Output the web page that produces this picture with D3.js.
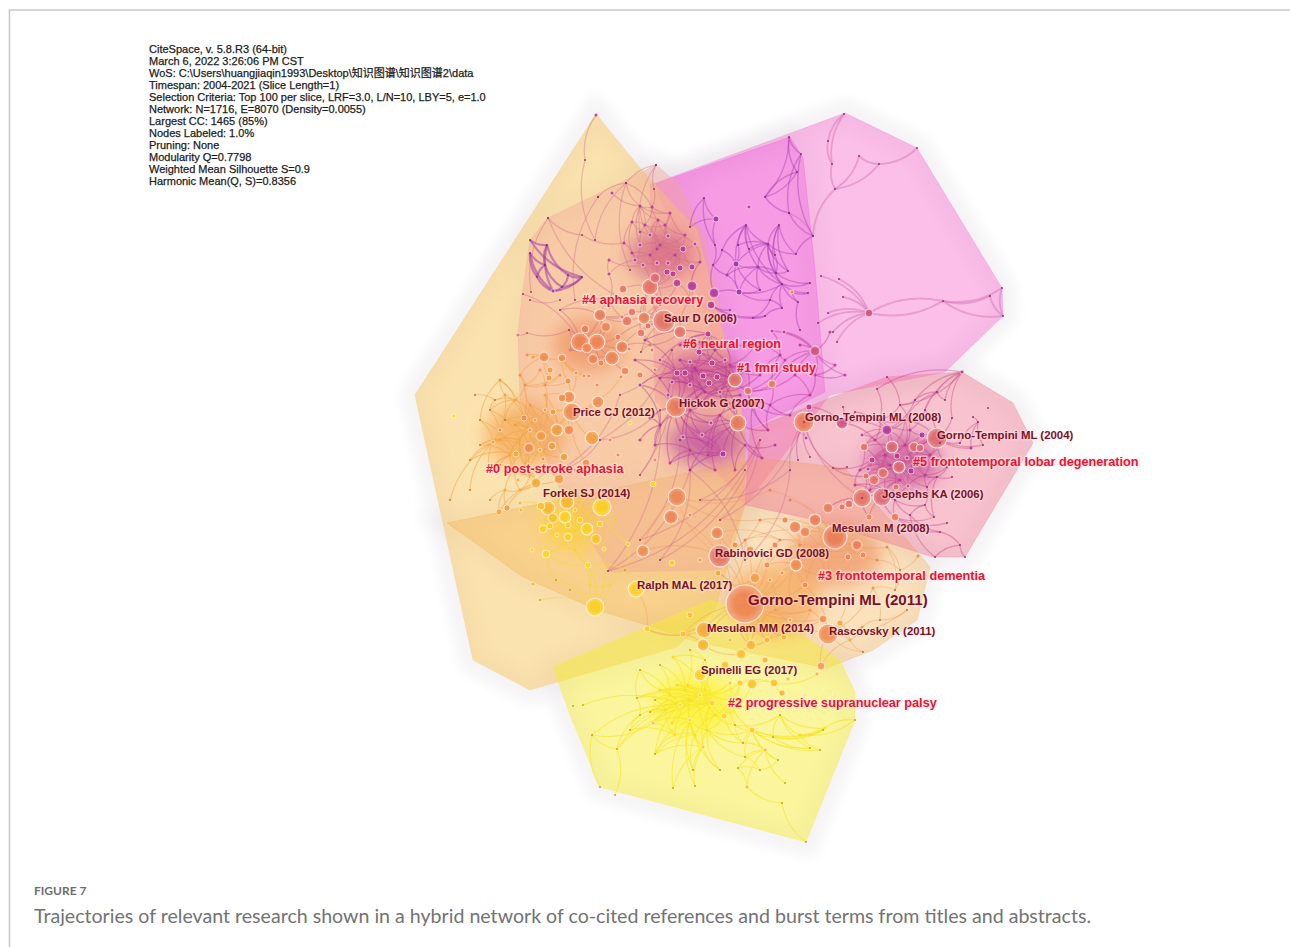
<!DOCTYPE html>
<html>
<head>
<meta charset="utf-8">
<script src="https://cdn.jsdelivr.net/npm/d3@7"></script>
<style>
  html, body { margin: 0; padding: 0; background: #fff; }
  svg { display: block; }
</style>
</head>
<body>
<script>
// run summary printed by CiteSpace in the corner of the map
var metaLines = [
  "CiteSpace, v. 5.8.R3 (64-bit)",
  "March 6, 2022 3:26:06 PM CST",
  "WoS: C:\\Users\\huangjiaqin1993\\Desktop\\知识图谱\\知识图谱2\\data",
  "Timespan: 2004-2021 (Slice Length=1)",
  "Selection Criteria: Top 100 per slice, LRF=3.0, L/N=10, LBY=5, e=1.0",
  "Network: N=1716, E=8070 (Density=0.0055)",
  "Largest CC: 1465 (85%)",
  "Nodes Labeled: 1.0%",
  "Pruning: None",
  "Modularity Q=0.7798",
  "Weighted Mean Silhouette S=0.9",
  "Harmonic Mean(Q, S)=0.8356"
];

// cluster hulls, layout coordinates
var hullFar = [[845,113],[917,148],[1002,288],[1003,316],[945,372],[830,395],[745,505],[655,400],[650,185]];
var hullUpper = [[655,184],[790,137],[803,158],[815,270],[825,392],[748,430],[700,300]];
var hullPostStroke = [[596,114],[640,168],[697,230],[745,425],[745,505],[715,610],[677,647],[530,690],[473,660],[415,395]];
var hullAphasia = [[530,240],[548,218],[656,165],[680,185],[705,240],[745,430],[745,505],[720,570],[610,572],[565,500],[520,400],[518,335],[522,295]];
var hullFtld = [[887,377],[962,372],[1013,403],[1033,443],[965,557],[933,557],[815,520],[745,505],[750,430],[825,400]];
var hullFtd = [[447,523],[760,458],[845,468],[930,567],[917,620],[873,650],[827,668],[697,642],[653,627],[597,610],[523,577]];
var hullPsp = [[553,667],[710,600],[780,620],[840,660],[855,692],[855,720],[806,842],[600,787],[570,715]];

// nodes: x, y, radius, first year cited
var nodesFmri = [
  [735,380,7,2009],[709,383,3,2006],[717,377,3,2006],[703,376,3,2005],[712,363,3,2006],[699,352,3,2005],[677,373,3,2006],[685,373,3,2006],
  [748,391,4,2009],[772,384,4,2010],[753,403,5,2010],[676,407,10,2010],[738,423,8,2010],[723,454,3,2005],[702,435,2,2006],[683,437,2,2005],
  [711,423,2,2006],[815,351,5,2007],[708,334,3,2006],[690,362,2,2005],[725,360,2,2005],[745,365,2,2006],[660,360,2,2006],[668,395,2,2005],
  [650,418,1.5,2005],[655,445,1.5,2006],[670,463,1.5,2006],[690,470,1.5,2005],[708,455,1.5,2006],[735,470,1.5,2006],[762,458,1.5,2005],[768,430,1.5,2006],
  [790,415,1.5,2005],[785,360,1.5,2006],[800,345,1.5,2006],[835,365,1.5,2006],[845,375,1.5,2006],[830,332,1.5,2006],[700,405,2,2006],[725,405,2,2006],
  [640,385,2,2006],[635,360,1.5,2005],[645,340,1.5,2005],[680,345,1.5,2005],[755,345,1.5,2006],[772,331,2,2006],[784,332,2,2006],[795,375,1.5,2006],
  [695,368,1.5,2005],[705,392,1.5,2005],[720,392,2,2006],[730,365,1.5,2006],[690,385,2,2006],[680,360,1.5,2005],[672,382,2,2005],[715,350,1.5,2005],
  [740,395,1.5,2006],[697,398,1.5,2006],[660,378,1.5,2005],[725,345,1.5,2006],[760,375,1.5,2006],[700,342,1.5,2005],[690,410,1.5,2006],[720,415,1.5,2005],
  [690,450,1.5,2006],[660,425,1.5,2005],[745,445,1.5,2006],[715,470,1.5,2005],[640,440,1.5,2006],[775,445,1.5,2005],[810,395,1.5,2006],[780,355,1.5,2006],
  [815,375,1.5,2006],[770,405,1.5,2005]
];
var edgesFmri = "0:1,2,3,4,5,6,7,8,11,19,20,21,38,39;11:1,3,6,7,13,14,15,16,23,24,25,26,38,40,41;12:1,2,13,14,16,27,28,29,30,31,39;13:14,15,26,27,28;8:9,10,21,31,33,47;10:16,30,31,32,39;17:33,34,35,36,37,45,46,47,9;18:5,4,20,43,44,22,42;6:19,22,41,42,40,23;4:19,20,43,21;48:49,50,51,52,53,54,55,57,58,61,3,1,2;49:50,52,54,56,57,0,6,7;50:51,56,60,39,38,20;52:53,54,58,6,19;55:59,61,5,18,43;51:59,60,21,44;62:63,64,65,14,15,16,38;63:39,66,12,28,67;64:27,67,13,26,25;65:68,24,25,40;66:69,29,30;70:72,32,47,73;71:45,33,60,44,9;72:35,36,17;73:9,31,32,10";

var nodesNeural = [
  [749,207,2,2005],[716,219,3,2004],[736,264,3,2004],[739,292,3,2004],[714,293,5,2005],[711,305,4,2005],[746,225,1,2005],[779,225,1,2005],
  [768,244,1.5,2004],[796,254,1,2005],[776,273,1,2004],[810,283,1,2005],[782,284,1,2004],[788,271,1,2004],[749,249,1,2005],[758,267,1.5,2004],
  [808,293,1,2005],[798,302,1,2005],[782,308,1,2005],[753,318,1,2005],[765,316,1,2005],[765,197,1,2005],[789,213,1,2005],[813,236,1,2005],
  [789,137,1,2005],[801,154,1,2005],[797,172,1,2005],[704,198,1,2005],[690,227,1,2005],[713,265,1,2005],[715,245,1,2005],[792,292,2,2012],
  [727,275,1.5,2004],[730,310,1,2005],[722,250,1,2004],[760,290,1,2004],[775,255,1,2004],[738,245,1,2004],[770,300,1,2005],[800,330,1,2005]
];
var edgesNeural = "6:8,14,15,2,37,12,34;7:8,9,10,13,36;8:9,10,13,14,15,36,37,2,12;2:3,15,32,34,35,37;10:11,12,13,15,36;15:3,10,12,35,32;3:4,32,35,12,38;12:11,16,17,18,38;21:24,26,22;24:25,26;25:22,23;26:21;22:23;23:9;27:28,30,1;1:30,28;29:30,34,4,32;5:33,19,20;19:20,38;18:38,20;17:39;31:16,17";

var nodesFar = [
  [844,114,1,2005],[917,148,1,2005],[1002,288,1,2005],[1003,316,1,2005],[990,296,1,2005],[943,301,1,2005],[843,297,1,2005],[839,279,1,2005],
  [821,276,1,2005],[879,164,1,2005],[859,156,1,2005],[835,189,1,2005],[832,164,1,2005],[828,141,1,2005],[869,313,4,2007],[828,313,1,2005],
  [818,323,1,2005],[833,332,1,2005],[837,342,1,2005],[813,236,1,2005],[789,213,1,2005]
];
var edgesFar = "0:13,12;13:12;12:11;11:10,9,19;10:9;9:1;14:5,6,7,8,15,16,17,18;5:14,2,4,3;4:3;2:3;19:20";

var nodesFan = [
  [530,253,1,2004],[530,240,1,2004],[547,245,1,2004],[545,265,1,2004],[537,277,1,2004],[553,291,2,2004],[562,287,1,2004],[568,275,1,2004],[582,277,1,2004]
];
var edgesFan = "0:5,4,3;2:3,5,7;3:6,4;4:5;5:6,8;6:7,8;7:8;1:2,8";

var nodesAphasia = [
  [650,287,8,2009],[655,278,5,2008],[623,289,4,2009],[677,283,4,2006],[692,286,5,2005],[683,249,3,2005],[667,272,3,2006],[673,274,3,2006],
  [692,267,3,2005],[680,268,3,2005],[668,263,2,2006],[643,265,2,2006],[640,245,2,2005],[635,260,2,2005],[657,263,2,2006],[600,315,6,2010],
  [622,317,2,2009],[627,321,5,2009],[632,312,4,2009],[644,318,6,2010],[585,329,4,2010],[606,327,5,2011],[580,342,9,2011],[597,342,8,2011],
  [587,348,5,2011],[618,337,3,2010],[622,347,6,2010],[612,358,7,2011],[593,359,5,2011],[601,363,3,2011],[625,371,4,2011],[641,333,4,2009],
  [680,332,6,2009],[648,326,3,2009],[664,321,11,2009],[640,206,1.5,2005],[652,207,1.5,2005],[670,213,1.5,2005],[632,222,1.5,2005],[658,220,1.5,2005],
  [650,235,2,2005],[668,236,2,2005],[695,244,2,2005],[657,249,1.5,2005],[624,243,1.5,2005],[632,253,1.5,2005],[609,260,1.5,2005],[609,274,2,2006],
  [626,183,1,2006],[654,189,1,2006],[656,165,1,2006],[598,197,1,2006],[612,193,2,2006],[548,218,1,2007],[582,235,1,2007],[531,292,1,2007],
  [523,294,1,2007],[518,335,2,2009],[527,333,1,2009],[560,310,1,2006],[569,330,1,2006],[641,352,1,2006],
  [660,245,1.5,2005],[675,255,1.5,2005],[650,255,1.5,2005],[685,235,1.5,2005],[645,225,1.5,2005],[665,225,1.5,2005],[700,262,1.5,2005],[690,300,1.5,2005],
  [610,300,1,2009],[570,350,1.5,2010],[650,345,1.5,2009],[660,305,2,2008]
];
var edgesAphasia = "0:1,2,3,6,7,10,11,14,19,31,33,34;5:8,9,10,7,12,14,40,41,42,43;35:36,37,38,39,40,12;36:39,37,48,49;38:45,44,40;39:41,40,43;37:41,42;13:11,12,14,44,45,47;46:47,11;22:15,20,23,24,25,28,56,59,60;23:15,21,24,26,27,29;27:25,26,28,29,30;34:17,18,19,31,32,33,26,25,61;15:16,17,18,21,59;50:49,48;48:35,51;52:35;53:54,55;54:44;57:58;58:60;62:63,64,65,66,67,40,41,43,5;63:8,9,10,65,68;64:43,45,13,14,10;66:67,38,35,36,12;67:39,37,41,65;68:8,42,4,69;69:3,32,4;70:15,16,59,47;71:22,24,20,60;72:31,32,26,61;73:1,19,33,0,3";

var nodesPostStroke = [
  [569,397,6,2012],[562,398,4,2012],[598,402,6,2012],[557,430,6,2013],[569,430,5,2012],[592,438,7,2013],[541,436,5,2013],[529,448,5,2012],
  [552,446,4,2013],[524,418,3,2012],[553,412,3,2013],[572,412,9,2012],[564,457,4,2013],[516,454,3,2014],[536,483,5,2014],[559,479,5,2013],
  [586,463,4,2012],[543,459,2,2012],[507,508,3,2013],[499,512,3,2014],[544,357,5,2012],[562,358,4,2012],[550,370,3,2013],[549,378,3,2013],
  [568,381,3,2012],[576,373,2,2012],[584,376,2,2012],[589,376,2,2012],[621,377,2,2011],[454,416,2,2019],[493,442,2,2013],[505,395,1.5,2013],
  [480,420,1,2013],[470,460,1,2013],[490,470,1,2013],[500,380,1.5,2012],[520,375,1.5,2012],[527,355,1.5,2012],[533,357,1.5,2013],[545,395,1.5,2013],
  [515,425,1.5,2013],[530,405,1.5,2013],[510,470,1.5,2014],[525,465,1.5,2014],[470,490,1,2013],[450,500,1,2013],
  [505,420,1,2013],[495,400,1,2012],[515,400,1.5,2013],[535,420,2,2013],[545,410,2,2013],[500,440,1.5,2014],[520,440,1.5,2014],[540,450,2,2014],
  [510,455,1.5,2014],[480,445,1,2013],[530,430,2,2013],[490,410,1,2012],[525,385,1.5,2012],[545,385,1.5,2012],[560,375,1.5,2012],[515,470,1.5,2014],
  [530,475,1.5,2014],[505,490,1.5,2014],[490,500,1,2014],[520,490,1.5,2014],[550,470,2,2014],[475,395,1,2012],[540,370,1.5,2012],[500,465,1,2013]
];
var edgesPostStroke = "11:0,1,2,3,4,5,10,16,28,8;3:6,8,10,12,17,41,39;6:7,9,13,17,41,39,40,43;7:9,13,14,40,42,43,30;9:31,35,36,41;13:30,32,33,34,42;20:21,22,23,36,37,38;21:24,25,26,27;14:15,18,19,42,43;30:31,32,34,44,45;35:32,31;0:24,25,39;49:46,48,50,52,56,40,41,6,3;56:46,51,52,53,54,9,40;52:51,54,55,57,61,62,43;48:47,57,46,58,35;54:51,55,61,69,34;53:62,66,8,12,43;58:36,59,60,68,41;59:60,68,24,22;61:63,65,69,62;63:64,65,19,18;65:14,62;47:67,57,31;51:55,57,33,30;50:39,10,59,3;66:15,12,14";

var nodesForkel = [
  [602,507,9,2017],[548,508,7,2015],[541,506,4,2016],[567,502,7,2015],[553,518,5,2016],[565,517,6,2017],[550,526,3,2017],[543,529,4,2017],
  [568,525,3,2017],[580,520,3,2017],[587,529,6,2017],[600,524,3,2017],[596,539,5,2016],[568,537,4,2017],[546,554,4,2018],[532,550,2,2018],
  [588,565,3,2018],[604,549,2,2018],[628,544,2,2017],[595,607,9,2017],[520,503,2,2015],[521,510,2,2015],[533,584,2,2015],[630,423,2,2019],
  [653,484,3,2018],[672,563,3,2017],[556,580,1,2019],[570,590,1,2019],[610,585,1.5,2018],[540,600,1,2019],
  [555,495,1.5,2016],[585,495,1.5,2016],[575,510,2,2016],[557,535,2,2017],[575,550,1.5,2017],[590,585,1.5,2018],[615,520,1.5,2017],[625,570,1,2018]
];
var edgesForkel = "0:3,5,9,10,11,12,17,18;3:1,4,5,8,13;1:2,4,6,7,20,21;5:4,6,8,9,13;10:9,11,12,13,16;14:7,13,15,16,26;19:16,17,26,27,28,29;12:13,17;32:5,8,9,3,30,31;30:1,3,4;31:0,3,9;33:6,7,13,4,34;34:13,14,16,12;35:16,19,28,34;36:0,11,18,17;37:18,28,16";

var nodesFtd = [
  [745,604,19,2011],[720,556,11,2009],[636,589,8,2017],[704,630,8,2014],[828,634,10,2012],[835,537,12,2010],[643,551,6,2012],[677,497,9,2011],
  [671,517,7,2011],[717,533,6,2011],[767,565,3,2012],[796,565,6,2012],[755,578,5,2013],[782,573,2,2012],[805,585,3,2012],[770,580,2,2013],
  [718,573,3,2014],[703,645,6,2015],[751,645,5,2015],[741,654,5,2016],[767,640,3,2015],[784,637,3,2015],[823,619,4,2012],[840,623,3,2014],
  [821,666,4,2013],[683,634,3,2016],[647,629,3,2017],[815,520,6,2010],[795,527,6,2011],[805,532,5,2011],[857,545,5,2010],[863,555,3,2011],
  [848,557,3,2011],[887,547,1.5,2011],[918,556,1.5,2011],[877,560,1.5,2011],[907,610,1,2012],[862,627,1.5,2012],[863,652,1,2012],[847,600,2,2012],
  [873,588,1.5,2012],[790,600,1.5,2013],[810,610,1.5,2013],[830,575,1.5,2011],[760,520,1.5,2010],[770,490,1.5,2010],[790,500,1.5,2010],[745,540,1.5,2010],
  [800,545,1.5,2011],[820,550,2,2011],[780,540,1.5,2011],[775,610,1.5,2013],[800,625,1.5,2014],[760,625,2,2014],[740,630,1.5,2015],[850,640,1.5,2014],
  [880,620,1,2013],[895,590,1,2012],[900,570,1,2012],[730,585,1.5,2013]
];
var edgesFtd = "0:1,3,9,10,11,12,13,14,15,16,17,18,20,21,22,25,41,42,47;1:6,9,16,8,47,44;4:14,22,23,37,39,40,42,36,38,24,20;5:11,14,27,28,29,30,31,32,43,44,45,46,47,33,35;11:10,13,14,28,29,41,43;7:8,6,1,45,44;26:2,25,3;17:3,25,19;18:19,20;49:48,50,27,29,11,43,30,32;48:50,28,10,44;50:47,9,12,10;51:52,53,41,42,15;52:42,21,22,20;53:54,20,18,0;54:3,18,25;55:4,37,38,24,23;56:36,37,40;57:40,58,33;58:34,33,35;59:1,16,47,12";

var nodesPsp = [
  [712,703,3,2018],[724,716,3,2018],[752,730,3,2017],[700,675,6,2017],[788,679,2,2016],[774,683,4,2016],[752,684,5,2016],[740,683,3,2017],
  [730,683,2,2017],[782,693,3,2015],[817,674,2,2015],[765,750,2,2016],[637,698,1,2019],[653,723,2,2016],[617,749,1,2019],[655,754,1,2019],
  [673,788,1,2019],[695,786,1,2019],[600,787,1,2019],[615,795,1,2019],[592,735,1,2019],[583,705,1,2020],[573,706,1,2020],[738,768,1,2019],
  [747,787,2,2016],[782,803,1,2019],[785,783,1,2019],[806,842,1,2018],[855,720,1,2018],[825,728,1.5,2019],[820,750,1,2018],[810,748,1,2018],
  [778,760,1,2018],[745,757,1,2017],[743,743,1,2017],[703,747,2,2017],[707,730,1.5,2018],[672,723,1.5,2018],[677,685,1.5,2018],[688,685,1.5,2018],
  [650,712,1,2019],[673,657,1.5,2018],[693,770,1,2018],[720,770,1,2018],[773,737,1,2018],[823,730,1,2018],[660,690,1.5,2019],[690,720,2,2019],
  [680,705,2,2019],[700,695,2,2019],
  [690,700,1.5,2019],[705,690,1.5,2019],[670,695,1.5,2019],[665,710,1.5,2019],[685,690,1.5,2019],[715,715,1.5,2019],[695,735,1.5,2019],[675,735,1.5,2019],
  [655,700,1,2019],[640,715,1,2019],[630,730,1,2019],[705,660,1,2019],[730,700,1.5,2018],[735,725,1,2018],[780,715,1,2018],[800,735,1.5,2018],
  [760,770,1,2018],[640,670,1,2019],[660,665,1,2019],[690,650,1,2019]
];
var edgesPsp = "0:1,3,36,37,38,39,40,46,47,48,49,12,14,41,13,35;49:3,38,39,46,48,12,13,40,37,36,7,8;48:12,13,14,15,40,46,20,21;47:13,15,16,17,35,36,42,43;36:33,34,35,43,2,1;2:11,29,31,32,33,34,44,45,30;1:7,8,6,34;11:32,33,34,23,24,26;44:29,45,31;35:42,43,17,16,15;20:13,14,18;19:14;24:25,23;25:27;28:29;5:9,10,7,6;50:51,52,53,54,55,56,57,58,49,47,48,0;51:54,61,62,55,3;52:53,58,67,68,46;53:59,60,58,40,57;54:38,39,68,69,41;55:62,63,56,1,36;56:57,35,42,15;57:15,13,60;59:60,12,14;61:69,41,3;62:63,7,2;63:2,34,64;64:65,44,29,31;65:29,45,30,28;66:33,23,32;67:12,46";

var nodesFtld = [
  [804,422,10,2010],[937,438,10,2008],[882,497,9,2008],[862,498,9,2009],[842,423,6,2007],[887,430,5,2005],[922,435,3,2004],[914,447,5,2008],
  [920,448,4,2008],[892,447,6,2008],[864,447,4,2009],[897,456,3,2006],[872,460,3,2006],[907,458,2,2005],[899,467,6,2008],[911,471,3,2004],
  [883,473,5,2009],[874,480,5,2009],[866,476,3,2009],[868,469,2,2006],[896,487,3,2009],[908,486,2,2007],[849,504,4,2009],[842,507,3,2009],
  [828,508,5,2010],[895,517,4,2010],[869,517,3,2011],[809,407,3,2006],[806,438,2,2005],[862,435,2,2006],[962,372,2,2006],[937,392,1,2005],
  [988,408,1,2005],[978,422,1,2005],[973,417,1,2005],[952,418,1,2005],[971,448,1.5,2004],[983,445,1,2005],[952,477,1,2005],[934,517,1,2006],
  [947,523,1,2006],[940,532,1,2006],[960,545,1,2006],[965,557,1,2006],[935,557,1,2006],[887,377,1,2006],[877,389,1,2006],[855,412,1,2006],
  [843,407,1,2006],[810,457,1,2006],[798,460,1,2006],[833,468,1,2006],[847,467,1,2006],[960,443,1,2005],[940,443,1,2005],[947,467,1,2006],
  [937,477,1,2006],[927,487,1,2006],[925,410,1,2005],[945,400,1,2005],[905,420,1,2005],[915,400,1,2005],
  [885,455,1.5,2005],[905,445,1.5,2005],[890,465,1.5,2005],[915,460,1.5,2005],[875,440,1.5,2005],[900,480,1.5,2005],[885,490,1.5,2006],[870,490,1.5,2006],
  [925,475,1.5,2005],[930,455,1.5,2005],[880,420,1.5,2005],[910,430,1.5,2005],[860,470,1.5,2006],[855,485,1.5,2006],[900,405,1,2005],[895,500,1,2006],
  [925,505,1,2006],[910,515,1,2006]
];
var edgesFtld = "1:6,7,8,13,14,35,53,54,55,58,60,36,37;14:7,8,9,11,13,15,16,17,20,21,57,56;9:5,6,10,11,12,16,19,60;16:12,17,18,19,10;5:4,29,10,60,61,47;30:31,59,58,61,35,46;31:58,59,60,61;2:16,20,21,25,26,3;3:17,18,22,23,24,26;56:38,39,57,55;25:39,40,41;42:41,43,44;4:27,0,48,47;0:28,27,49,50,51;51:52,12,18;33:34,37,36,53;62:63,64,65,66,9,11,12,5,16,19;63:65,71,73,7,60,5,11;64:65,67,14,16,12,18,74;65:70,71,13,15,21;66:72,10,29,5,4;67:68,69,20,21,17,2;68:69,75,2,3;69:75,18,3;70:71,56,57,55,21;71:54,1,8;72:60,76,73,46;73:6,76,58;74:75,12,10;76:30,61,45;77:2,25,79,78;78:79,39,57;79:41,44";

// long links running between the clusters
var nodesBridge = [
  [608,571,1,2006],[690,470,1,2006],[745,470,1,2006],[660,560,1,2006],[640,540,1,2006],[760,440,1,2006],[596,115,1.5,2006],[585,160,1,2006],
  [595,240,1,2006],[626,183,1,2006],[630,270,1,2006],[598,197,1,2006],[575,300,1,2006],[656,165,1,2006],[640,232,1,2006],[548,218,1,2006],
  [625,300,1,2006],[530,300,1,2006],[560,300,1,2006],[804,422,1,2006],[862,498,1,2006],[640,475,1,2006],[700,500,1,2006],[745,560,1,2006],
  [560,470,1,2006],[660,410,1,2006],[600,440,1,2006],[672,350,1,2006],[620,395,1,2006],[680,440,1,2006],[790,470,1,2006],[720,520,1,2006]
];
var edgesBridge = "0:1,2,25;3:1,5;4:29,5;6:7;7:8;9:10,8;11:12;13:14;15:16;17:18;19:20,30;21:25,27;22:30,5;23:30,1;24:26,28;26:27,25;28:27;31:5,19";

// nodes with no link worth drawing at this size
var nodesLoose = [
  [597,385,2,2011],[640,375,3,2010],[629,349,2,2010],[655,370,2,2009],[652,350,2,2009],[535,470,3,2013],[518,480,2,2014],[500,430,2,2012],
  [575,470,2,2012],[610,440,2,2011],[618,455,2,2011],[655,460,2,2011],[690,515,2,2012],[700,560,2,2013],[735,545,3,2012],[750,550,4,2012],
  [775,545,3,2011],[785,520,3,2011],[765,600,3,2013],[790,620,2,2014],[815,600,3,2013],[765,660,3,2015],[725,665,4,2016],[690,615,3,2016],
  [730,640,2,2015]
];

// where the links pile up too thick to pick apart: x, y, rx, ry, year
var denseAreas = [
  [703,376,40,24,2006],[903,462,38,28,2006],[695,705,40,30,2021],[525,435,40,32,2013],
  [660,255,32,26,2007],[570,525,28,22,2017],[590,345,36,26,2011],
  [835,555,46,32,2011],[705,442,38,22,2005],[775,600,46,36,2013]
];

var refLabels = [
  ["Rabinovici GD (2008)",715,557],["Ralph MAL (2017)",637,589],["Mesulam MM (2014)",707,632],
  ["Rascovsky K (2011)",829,635],["Spinelli EG (2017)",701,674],["Mesulam M (2008)",832,532],
  ["Josephs KA (2006)",882,498],["Gorno-Tempini ML (2008)",805,421],["Gorno-Tempini ML (2004)",937,439],
  ["Hickok G (2007)",679,407],["Saur D (2006)",664,322],["Price CJ (2012)",573,416],["Forkel SJ (2014)",543,497]
];
var topRefLabel = ["Gorno-Tempini ML (2011)",748,605];
var clusterLabels = [
  ["#4 aphasia recovery",582,304],["#6 neural region",683,348],["#1 fmri study",737,372],
  ["#0 post-stroke aphasia",486,473],["#5 frontotemporal lobar degeneration",913,466],
  ["#3 frontotemporal dementia",818,580],["#2 progressive supranuclear palsy",728,707]
];

var width = 1290, height = 947;

var x = d3.scaleLinear().domain([400, 1100]).range([400, 1100]);
var y = d3.scaleLinear().domain([100, 850]).range([100, 850]);
var rScale = d3.scaleLinear().domain([0, 20]).range([0, 20]);
var yearColor = d3.scaleLinear()
  .domain([2004, 2006, 2008, 2010, 2012, 2014, 2017, 2021])
  .range(["#a536ab", "#c03a90", "#de6a72", "#ea7d58", "#ef8d4e", "#f6a935", "#fbcf22", "#fdf010"]);

var svg = d3.select("body").append("svg")
  .attr("width", width)
  .attr("height", height);

var defs = svg.append("defs");
function addBlur(id, dev) {
  defs.append("filter").attr("id", id)
    .attr("x", "-50%").attr("y", "-50%").attr("width", "200%").attr("height", "200%")
    .append("feGaussianBlur").attr("stdDeviation", dev);
}
addBlur("soft", 0.45);
addBlur("wide", 9);
addBlur("halo", 7);

var shine = defs.append("radialGradient").attr("id", "shine");
shine.append("stop").attr("offset", "55%").attr("stop-color", "#fff").attr("stop-opacity", 0);
shine.append("stop").attr("offset", "100%").attr("stop-color", "#fff").attr("stop-opacity", 0.28);

// figure frame
svg.append("path")
  .attr("d", "M9.5," + height + "V10H" + width)
  .attr("fill", "none")
  .attr("stroke", "#c9c9c9")
  .attr("stroke-width", 1.6);

var hulls = [
  { pts: hullFar, color: "#f678d0", op: 0.48 },
  { pts: hullUpper, color: "#ed58da", op: 0.34 },
  { pts: hullPostStroke, color: "#f8c860", op: 0.5 },
  { pts: hullFtd, color: "#f5b351", op: 0.38 },
  { pts: hullAphasia, color: "#f4a898", op: 0.42 },
  { pts: hullFtld, color: "#ef7993", op: 0.45 },
  { pts: hullPsp, color: "#f7ec31", op: 0.48 }
];
var hullLine = d3.line()
  .x(function (d) { return x(d[0]); })
  .y(function (d) { return y(d[1]); })
  .curve(d3.curveLinearClosed);

// faint shadow the hulls leave around them
svg.append("g").attr("filter", "url(#halo)")
  .selectAll("path").data(hulls).enter().append("path")
  .attr("d", function (d) { return hullLine(d.pts); })
  .attr("fill", "none")
  .attr("stroke", "#e6e2e6")
  .attr("stroke-opacity", 0.4)
  .attr("stroke-width", 26);

var map = svg.append("g").attr("filter", "url(#soft)");

map.append("g").selectAll("path").data(hulls).enter().append("path")
  .attr("d", function (d) { return hullLine(d.pts); })
  .attr("fill", function (d) { return d.color; })
  .attr("fill-opacity", function (d) { return d.op; })
  .attr("stroke", function (d) { return d.color; })
  .attr("stroke-opacity", 0.3)
  .attr("stroke-width", 1);

map.append("g").attr("filter", "url(#wide)")
  .selectAll("ellipse").data(denseAreas).enter().append("ellipse")
  .attr("cx", function (d) { return x(d[0]); })
  .attr("cy", function (d) { return y(d[1]); })
  .attr("rx", function (d) { return d[2]; })
  .attr("ry", function (d) { return d[3]; })
  .attr("fill", function (d) { return yearColor(d[4]); })
  .attr("fill-opacity", 0.6);

var networks = [
  { nodes: nodesFar, edges: edgesFar, color: "#d878b8", w: 1.8, op: 0.5 },
  { nodes: nodesBridge, edges: edgesBridge, color: "#c8688f", w: 1.3, op: 0.35 },
  { nodes: nodesNeural, edges: edgesNeural, color: "#a83cb0", w: 1.4, op: 0.42 },
  { nodes: nodesFan, edges: edgesFan, color: "#a03ea8", w: 2.2, op: 0.55 },
  { nodes: nodesAphasia, edges: edgesAphasia, color: "#cc6c88", w: 1.2, op: 0.42 },
  { nodes: nodesPostStroke, edges: edgesPostStroke, color: "#f2a648", w: 1.1, op: 0.5 },
  { nodes: nodesForkel, edges: edgesForkel, color: "#f8d840", w: 1.1, op: 0.5 },
  { nodes: nodesFmri, edges: edgesFmri, color: "#b83a9c", w: 1.3, op: 0.42 },
  { nodes: nodesFtld, edges: edgesFtld, color: "#c84a88", w: 1.3, op: 0.42 },
  { nodes: nodesFtd, edges: edgesFtd, color: "#ee9a5a", w: 1.1, op: 0.4 },
  { nodes: nodesPsp, edges: edgesPsp, color: "#f6e52a", w: 1.1, op: 0.6 },
  { nodes: nodesLoose, edges: "" }
];

// "3:4,5;6:7" -> list of node pairs
function readEdges(net) {
  var out = [];
  if (!net.edges) return out;
  net.edges.split(";").forEach(function (part) {
    var bits = part.split(":");
    var a = net.nodes[+bits[0]];
    bits[1].split(",").forEach(function (j) {
      out.push({ a: a, b: net.nodes[+j], color: net.color, w: net.w, op: net.op });
    });
  });
  return out;
}

function arc(d) {
  var x1 = x(d.a[0]), y1 = y(d.a[1]), x2 = x(d.b[0]), y2 = y(d.b[1]);
  var p = d3.path();
  p.moveTo(x1, y1);
  p.quadraticCurveTo((x1 + x2) / 2 - (y2 - y1) * 0.2, (y1 + y2) / 2 + (x2 - x1) * 0.2, x2, y2);
  return p.toString();
}

var allEdges = [];
networks.forEach(function (n) { allEdges = allEdges.concat(readEdges(n)); });

map.append("g").selectAll("path").data(allEdges).enter().append("path")
  .attr("d", arc)
  .attr("fill", "none")
  .attr("stroke", function (d) { return d.color; })
  .attr("stroke-opacity", function (d) { return d.op; })
  .attr("stroke-width", function (d) { return d.w; });

var allNodes = [];
networks.forEach(function (n) { allNodes = allNodes.concat(n.nodes); });
allNodes.sort(function (a, b) { return b[2] - a[2]; });

var node = map.append("g").selectAll("g").data(allNodes).enter().append("g")
  .attr("transform", function (d) { return "translate(" + x(d[0]) + "," + y(d[1]) + ")"; });

node.append("circle")
  .attr("r", function (d) { return rScale(d[2]); })
  .attr("fill", function (d) {
    // the tiny ones read almost black on the map
    return d[2] <= 1 ? d3.color(yearColor(d[3])).darker(0.9) : yearColor(d[3]);
  })
  .attr("fill-opacity", 0.9)
  .attr("stroke", function (d) { return d[2] > 1.5 ? "#fff4ea" : "none"; })
  .attr("stroke-opacity", 0.8)
  .attr("stroke-width", function (d) { return d[2] > 5 ? 1.1 : 0.8; });

node.filter(function (d) { return d[2] > 3; }).append("circle")
  .attr("r", function (d) { return rScale(d[2]); })
  .attr("fill", "url(#shine)");

// corner summary
svg.append("g").selectAll("text").data(metaLines).enter().append("text")
  .attr("x", 149)
  .attr("y", function (d, i) { return 53 + i * 12; })
  .attr("font-family", "'Liberation Sans', 'Noto Sans CJK SC', sans-serif")
  .attr("font-size", 11)
  .attr("fill", "#1c1c1c")
  .attr("stroke", "#1c1c1c")
  .attr("stroke-width", 0.25)
  .text(function (d) { return d; });

function drawLabels(rows, size, color, haloColor) {
  svg.append("g").selectAll("text").data(rows).enter().append("text")
    .attr("x", function (d) { return x(d[1]); })
    .attr("y", function (d) { return y(d[2]); })
    .attr("font-family", "'Liberation Sans', Arial, sans-serif")
    .attr("font-size", size)
    .attr("font-weight", 700)
    .attr("fill", color)
    .attr("stroke", haloColor)
    .attr("stroke-width", 3)
    .attr("stroke-linejoin", "round")
    .attr("paint-order", "stroke")
    .text(function (d) { return d[0]; });
}
drawLabels(refLabels, 11.4, "#7a1226", "rgba(255,240,240,0.32)");
drawLabels([topRefLabel], 15.1, "#7a1226", "rgba(255,240,240,0.32)");
drawLabels(clusterLabels, 12.7, "#f01030", "rgba(255,235,235,0.5)");

// caption
svg.append("text")
  .attr("x", 34).attr("y", 895)
  .attr("font-family", "Lato, sans-serif")
  .attr("font-size", 12)
  .attr("font-weight", 700)
  .attr("fill", "#6d6d6d")
  .text("FIGURE 7");
svg.append("text")
  .attr("x", 34).attr("y", 923)
  .attr("font-family", "Lato, sans-serif")
  .attr("font-size", 19.6)
  .attr("fill", "#737373")
  .text("Trajectories of relevant research shown in a hybrid network of co-cited references and burst terms from titles and abstracts.");
</script>
</body>
</html>
